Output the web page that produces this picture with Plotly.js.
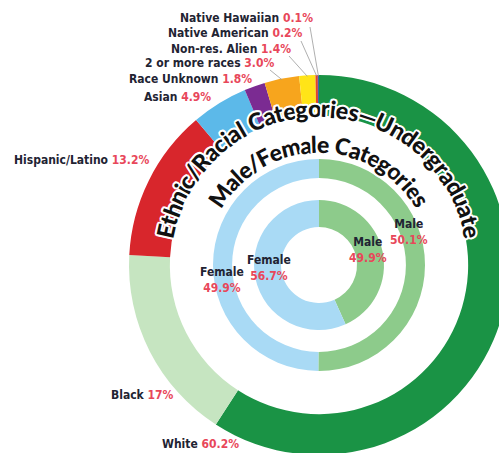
<!DOCTYPE html>
<html><head><meta charset="utf-8">
<script src="https://cdn.plot.ly/plotly-3.0.1.min.js"></script>
<style>html,body{margin:0;padding:0;overflow:hidden;background:#fff}#chart{width:530px;height:460px}</style>
</head><body><div id="chart"></div>
<script>
// ---- data ----
const ethnicLabels = ["White","Black","Hispanic/Latino","Asian","Race Unknown","2 or more races","Non-res. Alien","Native American","Native Hawaiian"];
const ethnicValues = [60.2, 17, 13.2, 4.9, 1.8, 3.0, 1.4, 0.2, 0.1];
const ethnicText = ["60.2%","17%","13.2%","4.9%","1.8%","3.0%","1.4%","0.2%","0.1%"];
const genderLabels = ["Male","Female"];
const middleValues = [50.1, 49.9];
const middleText = ["50.1%","49.9%"];
const innerValues = [43.3, 56.7];
const innerText = ["49.9%","56.7%"];
const outerTitle = "Ethnic/Racial Categories\u2014Undergraduate";
const innerTitle = "Male/Female Categories";

// ---- style ----
const W = 530, H = 460, cx = 319, cy = 265;
const ethnicColors = ["#1a9345","#c6e5c1","#d8262c","#5cb9e9","#7b2b92","#f7a51d","#ffe418","#e2412f","#3c67b0"];
const genderColors = ["#8dcb8b","#a9daf5"];
const pctColor = "#e8475a", lblColor = "#1f2433";
const lblFont = "'Liberation Sans Narrow','DejaVu Sans Condensed',sans-serif";

function dom(r){ return {x:[(cx-r)/W,(cx+r)/W], y:[(H-cy-r)/H,(H-cy+r)/H]}; }
function ring(vals, labels, colors, r, hole){
  return {type:'pie', values:vals, labels:labels, sort:false, direction:'clockwise', rotation:0,
    hole:hole, domain:dom(r), textinfo:'none', hoverinfo:'label+value',
    marker:{colors:colors, line:{width:0}}, showlegend:false};
}
const data = [
  ring(ethnicValues, ethnicLabels, ethnicColors, 190, 0.785),
  ring(middleValues, genderLabels, genderColors, 106, 0.82),
  ring(innerValues, genderLabels, genderColors, 65, 0.585)
];

const ann = [];
const shapes = [];
const px = x => x / W, py = y => 1 - y / H;

// outer labels: [index, right x, center y]
const outerPos = [[8,315,18],[7,305,33],[6,293,49],[5,276,63],[4,254,79],[3,213,97],[2,151,160],[1,176,395],[0,241,444]];
outerPos.forEach(([i,x,y]) => {
  ann.push({xref:'paper', yref:'paper', x:px(x), y:py(y), xanchor:'right', yanchor:'middle', showarrow:false,
    text: ethnicLabels[i] + " <span style='color:" + pctColor + "'>" + ethnicText[i] + "</span>",
    font:{family:lblFont, size:12, color:lblColor, weight:700}});
});
// leader lines for small slices: [index, start x, start y]
const total = ethnicValues.reduce((a,b)=>a+b,0);
const cum = []; ethnicValues.reduce((a,v,i)=>{cum[i]=a+v/2; return a+v;},0);
[[8,310,27],[7,301,41],[6,289,56],[5,270,70]].forEach(([i,x0,y0]) => {
  const th = cum[i]/total*2*Math.PI, R = 189;
  const x1 = cx + R*Math.sin(th), y1 = cy - R*Math.cos(th);
  shapes.push({type:'line', xref:'paper', yref:'paper', x0:px(x0), y0:py(y0), x1:px(x1), y1:py(y1),
    line:{color:'#9a9a9a', width:0.8}});
});

// gender labels: [ring text array, index, center x, center y]
[[middleText,0,409,232],[innerText,0,368,250],[innerText,1,269,268],[middleText,1,222,280]].forEach(([arr,i,x,y]) => {
  ann.push({xref:'paper', yref:'paper', x:px(x), y:py(y), xanchor:'center', yanchor:'middle', showarrow:false,
    text: genderLabels[i] + "<br><span style='color:" + pctColor + "'>" + arr[i] + "</span>",
    font:{family:lblFont, size:12, color:lblColor, weight:700}});
});

// curved titles
const arcFamily = "Lato,'Liberation Sans',Arial,sans-serif";
function arcText(str, R, spanDeg){
  const ctx = document.createElement('canvas').getContext('2d');
  const base = 20;
  ctx.font = "900 " + base + "px " + arcFamily;
  const chars = Array.from(str);
  let widths = chars.map(c => ctx.measureText(c).width);
  let tot = widths.reduce((a,b)=>a+b,0);
  const target = spanDeg*Math.PI/180*R;
  const size = base*target/tot;
  widths = widths.map(w => w*target/tot); tot = target;
  let pos = -tot/2;
  chars.forEach((c,i) => {
    const mid = pos + widths[i]/2; pos += widths[i];
    if (c === ' ') return;
    const th = mid / R;
    const x = cx + R*Math.sin(th), y = cy - R*Math.cos(th);
    ann.push({xref:'paper', yref:'paper', x:px(x), y:py(y), xanchor:'center', yanchor:'middle', showarrow:false,
      text:c, textangle: th*180/Math.PI, borderpad:0,
      font:{family:arcFamily, size:size, color:'#111', weight:900,
        shadow:'-1.5px -1.5px 0 #fff, 1.5px -1.5px 0 #fff, -1.5px 1.5px 0 #fff, 1.5px 1.5px 0 #fff, 0 2px 0 #fff, 0 -2px 0 #fff, 2px 0 0 #fff, -2px 0 0 #fff'}});
  });
}
arcText(outerTitle, 157, 160);
arcText(innerTitle, 121, 120);

Plotly.newPlot('chart', data, {
  width:W, height:H, margin:{l:0,r:0,t:0,b:0}, paper_bgcolor:'#fff', plot_bgcolor:'#fff',
  showlegend:false, annotations:ann, shapes:shapes
}, {displayModeBar:false, staticPlot:true});
</script></body></html>
